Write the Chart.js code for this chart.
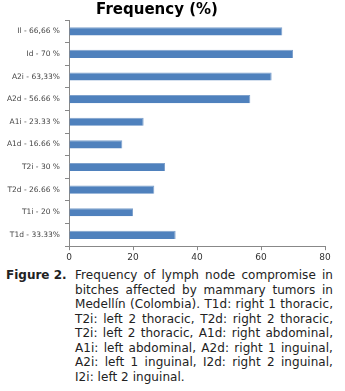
<!DOCTYPE html>
<html>
<head>
<meta charset="utf-8">
<script src="https://cdn.jsdelivr.net/npm/chart.js@4"></script>
<style>
  body { margin: 0; background: #fff; width: 345px; height: 391px; overflow: hidden; font-family: "DejaVu Sans", Verdana, sans-serif; }
  #wrap { position: relative; width: 345px; height: 265px; }
  #titulo { position: absolute; left: 0; width: 314px; top: 0; text-align: center; font-weight: bold; font-size: 15px; line-height: 18px; color: #000; }
  #legenda { display: flex; padding: 3px 12px 0 6px; color: #222; font-size: 12px; line-height: 14.5px; }
  #legenda b { width: 69px; flex: none; }
  #legenda p { margin: 0; text-align: justify; letter-spacing: 0.05px; }
</style>
</head>
<body>
<div id="wrap">
  <div id="titulo">Frequency (%)</div>
  <canvas id="chart_bar_freq" width="345" height="265"></canvas>
</div>
<div id="legenda">
  <b>Figure 2.</b>
  <p>Frequency of lymph node compromise in bitches affected by mammary tumors in Medellín (Colombia). T1d: right 1 thoracic, T2i: left 2 thoracic, T2d: right 2 thoracic, T2i: left 2 thoracic, A1d: right abdominal, A1i: left abdominal, A2d: right 1 inguinal, A2i: left 1 inguinal, I2d: right 2 inguinal, I2i: left 2 inguinal.</p>
</div>
<script>
// dados do gráfico (de cima para baixo)
const categorias = ['Il - 66,66 %', 'Id - 70 %', 'A2i - 63,33%', 'A2d - 56.66 %', 'A1i - 23.33 %', 'A1d - 16.66 %', 'T2i - 30 %', 'T2d - 26.66 %', 'T1i - 20 %', 'T1d - 33.33%'];
const frequencias = [66.66, 70, 63.33, 56.66, 23.33, 16.66, 30, 26.66, 20, 33.33];
const ticksX = [0, 20, 40, 60, 80];

const ctx = document.getElementById('chart_bar_freq');

new Chart(ctx, { // Gráfico de barras horizontais
    type: 'bar',
    data: {
        labels: categorias,
        datasets: [{
            label: 'Frequency (%)',
            data: frequencias,
            backgroundColor: '#4F81BD',
            borderColor: '#7EA1CC',
            borderWidth: { top: 1, right: 1, bottom: 0, left: 0 },
            barPercentage: 0.36,
            categoryPercentage: 1
        }]
    },
    options: {
        indexAxis: 'y',
        responsive: false,
        animation: false,
        layout: {
            padding: { top: 20, right: 20, left: 0, bottom: 0 }
        },
        scales: {
            x: {
                min: ticksX[0],
                max: ticksX[ticksX.length - 1],
                afterBuildTicks: (scale) => { scale.ticks = ticksX.map(v => ({ value: v })); },
                grid: { drawOnChartArea: false, tickLength: 4, color: '#888' },
                border: { color: '#888' },
                ticks: { color: '#333', padding: 2, font: { family: 'DejaVu Sans', size: 9 } }
            },
            y: {
                afterFit: (scale) => { scale.width = 69; },
                grid: { drawOnChartArea: false, tickLength: 4, color: '#888' },
                border: { color: '#888' },
                ticks: { color: '#444', padding: 5, font: { family: 'DejaVu Sans', size: 7.5 } }
            }
        },
        plugins: {
            legend: { display: false },
            title: { display: false },
            tooltip: { enabled: false }
        }
    }
});
</script>
</body>
</html>
